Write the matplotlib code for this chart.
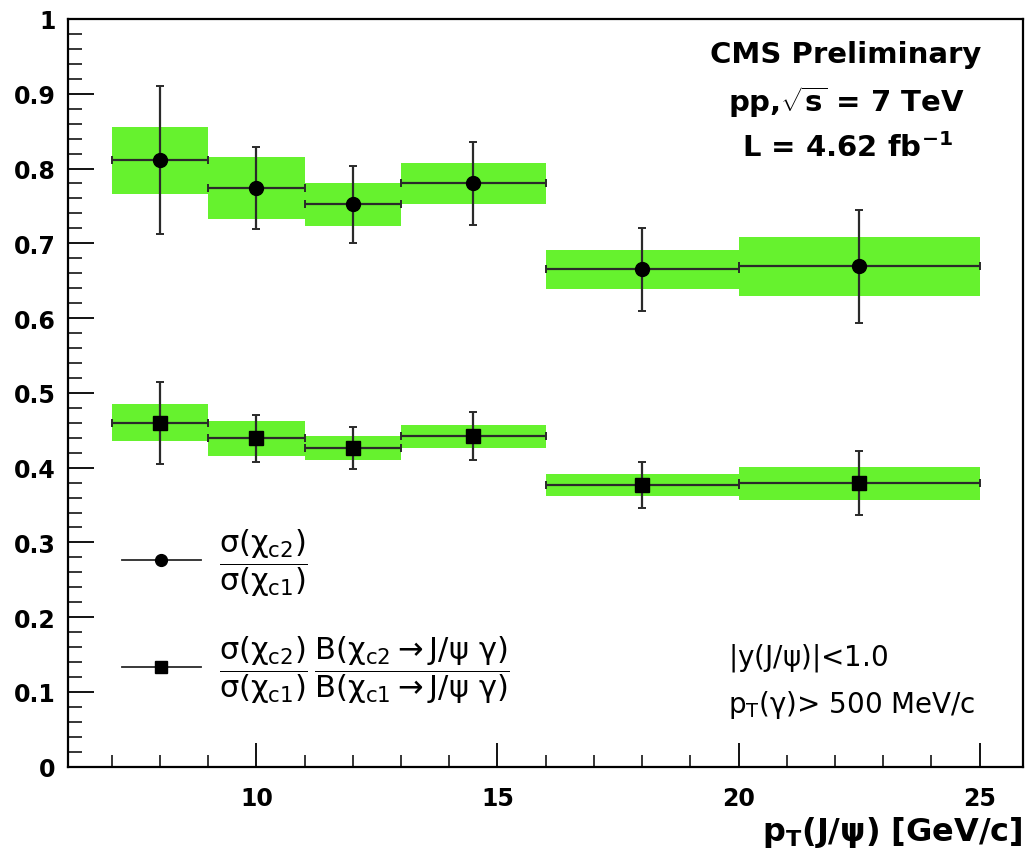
import matplotlib
matplotlib.use("Agg")
import matplotlib.pyplot as plt
from matplotlib.lines import Line2D
from matplotlib.ticker import MultipleLocator

plt.rcParams["font.family"] = ["DejaVu Sans"]
plt.rcParams["mathtext.fontset"] = "custom"
plt.rcParams["mathtext.rm"] = "DejaVu Sans"
plt.rcParams["mathtext.it"] = "DejaVu Sans"
plt.rcParams["mathtext.bf"] = "DejaVu Sans:bold"

# pT(J/psi) bins [GeV/c]
bin_lo = [7, 9, 11, 13, 16, 20]
bin_hi = [9, 11, 13, 16, 20, 25]
pt_center = [8, 10, 12, 14.5, 18, 22.5]

# sigma(chi_c2)/sigma(chi_c1)
xsec_ratio = [0.811, 0.774, 0.752, 0.780, 0.665, 0.669]
xsec_stat = [0.099, 0.055, 0.051, 0.056, 0.055, 0.076]
xsec_syst = [0.045, 0.041, 0.029, 0.028, 0.026, 0.039]

# ratio times branching fractions
br_ratio = [0.460, 0.439, 0.426, 0.442, 0.377, 0.379]
br_stat = [0.055, 0.031, 0.028, 0.032, 0.031, 0.043]
br_syst = [0.025, 0.024, 0.016, 0.0155, 0.0145, 0.0225]

GREEN = "#66f22e"
EBAR = "#2a2a2a"

fig = plt.figure(figsize=(10.27, 8.54), dpi=100)
ax = fig.add_axes([0.0665, 0.101, 0.9296, 0.8756])


def draw_series(vals, stat, syst, marker, ms):
    widths = [h - l for l, h in zip(bin_lo, bin_hi)]
    ax.bar(bin_lo, [2 * s for s in syst], width=widths,
           bottom=[v - s for v, s in zip(vals, syst)],
           align="edge", color=GREEN, edgecolor="none", zorder=1)
    xerr = [[c - l for c, l in zip(pt_center, bin_lo)],
            [h - c for c, h in zip(pt_center, bin_hi)]]
    ax.errorbar(pt_center, vals, xerr=xerr, yerr=stat, fmt=marker,
                color="black", ms=ms, ecolor=EBAR, elinewidth=1.6,
                capsize=3, capthick=1.4, zorder=3)


draw_series(xsec_ratio, xsec_stat, xsec_syst, "o", 10)
draw_series(br_ratio, br_stat, br_syst, "s", 10)

ax.set_xlim(6.1, 25.9)
ax.set_ylim(0, 1)
ax.xaxis.set_major_locator(MultipleLocator(5))
ax.xaxis.set_minor_locator(MultipleLocator(1))
ax.yaxis.set_major_locator(MultipleLocator(0.1))
ax.yaxis.set_minor_locator(MultipleLocator(0.02))
ax.yaxis.set_major_formatter(plt.FuncFormatter(lambda v, _: f"{v:g}"))

ax.tick_params(axis="x", which="major", direction="in", length=17, width=1.3,
               pad=14, labelsize=17)
ax.tick_params(axis="x", which="minor", direction="in", length=8.5, width=1.1)
ax.tick_params(axis="y", which="major", direction="in", length=19, width=1.3,
               pad=9, labelsize=17)
ax.tick_params(axis="y", which="minor", direction="in", length=10, width=1.1)
for lab in ax.get_xticklabels() + ax.get_yticklabels():
    lab.set_fontweight("bold")
for sp in ax.spines.values():
    sp.set_linewidth(1.6)

ax.set_xlabel(r"p$_\mathbf{T}$(J/$\mathbf{\psi}$) [GeV/c]", fontsize=23,
              fontweight="bold", ha="right", va="top")
ax.xaxis.set_label_coords(1.0, -0.063)

bold_kw = dict(transform=ax.transAxes, ha="center", va="center",
               fontsize=21, fontweight="bold")
ax.text(0.8146, 0.953, "CMS Preliminary", **bold_kw)
ax.text(0.8146, 0.890, r"pp,$\mathbf{\sqrt{s}}$ = 7 TeV", **bold_kw)
ax.text(0.8165, 0.829, r"L = 4.62 fb$^{\mathbf{-1}}$", **bold_kw)

ax.text(0.691, 0.1467, r"|y(J/$\psi$)|<1.0", transform=ax.transAxes,
        ha="left", va="center", fontsize=20)
ax.text(0.691, 0.084, r"p$_\mathregular{T}$($\gamma$)> 500 MeV/c",
        transform=ax.transAxes, ha="left", va="center", fontsize=20)

handles = [
    Line2D([], [], color=EBAR, lw=1.3, marker="o", ms=8.5, mfc="black", mec="black"),
    Line2D([], [], color=EBAR, lw=1.3, marker="s", ms=8.5, mfc="black", mec="black"),
]
labels = [
    r"$\dfrac{\sigma(\chi_{c2})}{\sigma(\chi_{c1})}$",
    r"$\dfrac{\sigma(\chi_{c2})}{\sigma(\chi_{c1})}\,"
    r"\dfrac{B(\chi_{c2} \rightarrow J/\psi\ \gamma)}{B(\chi_{c1} \rightarrow J/\psi\ \gamma)}$",
]
ax.legend(handles, labels, loc="lower left", bbox_to_anchor=(0.043, 0.066),
          borderaxespad=0, frameon=False, fontsize=22, handlelength=2.6,
          handletextpad=0.6, labelspacing=1.15)

fig.savefig("out.png", dpi=100)
